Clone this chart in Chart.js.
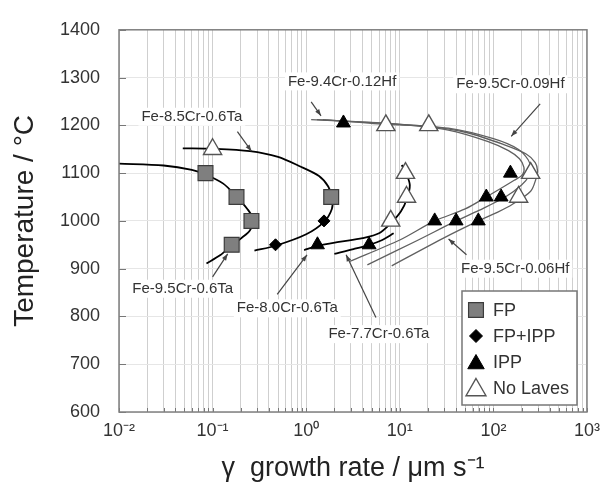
<!DOCTYPE html>
<html>
<head>
<meta charset="utf-8">
<script src="https://cdn.jsdelivr.net/npm/chart.js@4.4.0/dist/chart.umd.min.js"></script>
<style>
  html, body { margin: 0; padding: 0; background: #fff; }
  #wrap { width: 608px; height: 491px; }
</style>
</head>
<body>
<div id="wrap"><canvas id="growthChart" width="608" height="491"></canvas></div>
<script>
// measured points: growth rate (um/s) vs temperature (C)
const fpRate = [0.084, 0.18, 0.26, 0.16, 1.85];
const fpTemp = [1100, 1050, 1000, 950, 1050];
const fpIppRate = [1.55, 0.47];
const fpIppTemp = [1000, 950];
const ippRate = [1.32, 4.7, 2.5, 23.6, 40, 69, 84, 121, 152];
const ippTemp = [950, 950, 1205, 1000, 1000, 1000, 1050, 1050, 1100];
const noLavesRate = [0.1, 7.1, 20.4, 8.0, 11.8, 11.5, 186, 250];
const noLavesTemp = [1150, 1200, 1200, 1000, 1050, 1100, 1050, 1100];

// drawn curves for each alloy
const ta95Rate = [0.01, 0.03, 0.06, 0.084, 0.13, 0.18, 0.235, 0.272, 0.25, 0.2, 0.16, 0.12, 0.086];
const ta95Temp = [1120, 1116, 1107, 1097, 1078, 1051, 1025, 1003, 980, 963, 948, 928, 911];
const ta85Rate = [0.048, 0.1, 0.25, 0.5, 0.84, 1.37, 1.72, 1.9, 1.88, 1.55, 1.0, 0.47, 0.28];
const ta85Temp = [1152, 1151, 1146, 1134, 1115, 1094, 1072, 1048, 1025, 998, 972, 948, 938];
const ta80Rate = [0.95, 1.34, 2.24, 4.0, 6.0, 8.1, 10.3, 12.0, 12.8, 11.8, 10.5];
const ta80Temp = [939, 948, 956, 964, 974, 996, 1020, 1048, 1075, 1098, 1117];
const ta77Rate = [2.0, 3.2, 4.7, 6.5, 8.6];
const ta77Temp = [931, 941, 950, 960, 974];
const hf12Rate = [1.13, 2.5, 10, 33, 88, 145, 190, 212, 205, 167, 84, 50, 23.6, 10, 2.9];
const hf12Temp = [1212, 1209, 1202, 1190, 1166, 1147, 1130, 1112, 1097, 1085, 1050, 1025, 1000, 960, 915];
const hf09Rate = [1.3, 7.1, 33, 100, 184, 235, 252, 242, 200, 134, 70, 40, 15, 4.5];
const hf09Temp = [1212, 1204, 1194, 1172, 1150, 1128, 1110, 1095, 1075, 1050, 1022, 1000, 958, 908];
const hf06Rate = [1.5, 7.1, 20.4, 54, 128, 224, 280, 296, 285, 250, 160, 110, 69, 30, 8.2];
const hf06Temp = [1212, 1202, 1198, 1184, 1160, 1140, 1122, 1105, 1088, 1062, 1035, 1018, 1000, 965, 906];

// axis ticks
const xTickValues = [0.01, 0.1, 1, 10, 100, 1000];
const xTickLabels = ['10\u207B\u00B2', '10\u207B\u00B9', '10\u2070', '10\u00B9', '10\u00B2', '10\u00B3'];
const yTicks = [600, 700, 800, 900, 1000, 1100, 1200, 1300, 1400];

// alloy labels: text, label anchor [rate, temp], arrow from / to
const notes = [
  { text: 'Fe-8.5Cr-0.6Ta', at: [0.06, 1218], from: [0.184, 1187], to: [0.26, 1146] },
  { text: 'Fe-9.4Cr-0.12Hf', at: [2.42, 1292], from: [1.13, 1249], to: [1.44, 1220] },
  { text: 'Fe-9.5Cr-0.09Hf', at: [152, 1286], from: [316, 1245], to: [155, 1177] },
  { text: 'Fe-9.5Cr-0.6Ta', at: [0.048, 858], from: [0.1, 883], to: [0.145, 931] },
  { text: 'Fe-8.0Cr-0.6Ta', at: [0.628, 817], from: [0.49, 846], to: [1.02, 929] },
  { text: 'Fe-7.7Cr-0.6Ta', at: [5.98, 763], from: [5.56, 798], to: [2.67, 929] },
  { text: 'Fe-9.5Cr-0.06Hf', at: [171, 900], from: [51.6, 929], to: [33.2, 962] }
];

const FONT = '"Liberation Sans", Arial, sans-serif';
const pts = (xs, ys) => xs.map((x, i) => ({ x: x, y: ys[i] }));

// every 1..9 x 10^n between the axis limits, for the log grid
const minorTicks = [];
for (let e = -2; e <= 2; e++) {
  for (let m = 1; m <= 9; m++) minorTicks.push(Number((m * Math.pow(10, e)).toPrecision(3)));
}
minorTicks.push(1000);

const markerSets = [
  { label: 'FP', data: pts(fpRate, fpTemp), pointStyle: 'rect', pointRadius: 10.5,
    backgroundColor: '#7f7f7f', borderColor: '#3c3c3c', borderWidth: 1.2 },
  { label: 'FP+IPP', data: pts(fpIppRate, fpIppTemp), pointStyle: 'rectRot', pointRadius: 6,
    backgroundColor: '#000', borderColor: '#000', borderWidth: 1 },
  { label: 'IPP', data: pts(ippRate, ippTemp), pointStyle: 'triangle', pointRadius: 8,
    backgroundColor: '#000', borderColor: '#000', borderWidth: 1 },
  { label: 'No Laves', data: pts(noLavesRate, noLavesTemp), pointStyle: 'triangle', pointRadius: 10.5,
    backgroundColor: '#fff', borderColor: '#555', borderWidth: 1.4 }
].map(d => Object.assign(d, { showLine: false, order: 0 }));

function curve(xs, ys, color, width) {
  return { data: pts(xs, ys), showLine: true, pointRadius: 0, pointHoverRadius: 0,
    borderColor: color, borderWidth: width, tension: 0.3, fill: false, order: 1 };
}

const curveSets = [
  curve(ta95Rate, ta95Temp, '#000', 1.8),
  curve(ta85Rate, ta85Temp, '#000', 1.8),
  curve(ta80Rate, ta80Temp, '#000', 1.8),
  curve(ta77Rate, ta77Temp, '#000', 1.8),
  curve(hf12Rate, hf12Temp, '#606060', 1.3),
  curve(hf09Rate, hf09Temp, '#606060', 1.3),
  curve(hf06Rate, hf06Temp, '#606060', 1.3)
];

function arrow(ctx, x0, y0, x1, y1) {
  const a = Math.atan2(y1 - y0, x1 - x0);
  ctx.beginPath();
  ctx.moveTo(x0, y0);
  ctx.lineTo(x1, y1);
  ctx.stroke();
  ctx.beginPath();
  ctx.moveTo(x1, y1);
  ctx.lineTo(x1 - 7 * Math.cos(a - 0.35), y1 - 7 * Math.sin(a - 0.35));
  ctx.lineTo(x1 - 7 * Math.cos(a + 0.35), y1 - 7 * Math.sin(a + 0.35));
  ctx.closePath();
  ctx.fill();
}

const notesPlugin = {
  id: 'notes',
  afterDatasetsDraw(chart) {
    const { ctx, scales: { x, y } } = chart;
    ctx.save();
    ctx.font = '15px ' + FONT;
    ctx.textAlign = 'center';
    ctx.textBaseline = 'middle';
    notes.forEach(n => {
      const px = x.getPixelForValue(n.at[0]);
      const py = y.getPixelForValue(n.at[1]);
      const w = ctx.measureText(n.text).width;
      ctx.fillStyle = '#fff';
      ctx.fillRect(px - w / 2 - 3, py - 9, w + 6, 18);
      ctx.fillStyle = '#333';
      ctx.fillText(n.text, px, py);
      ctx.strokeStyle = '#444';
      ctx.fillStyle = '#444';
      ctx.lineWidth = 1.2;
      arrow(ctx, x.getPixelForValue(n.from[0]), y.getPixelForValue(n.from[1]),
        x.getPixelForValue(n.to[0]), y.getPixelForValue(n.to[1]));
    });
    ctx.restore();
  }
};

const framePlugin = {
  id: 'frame',
  afterDraw(chart) {
    const { ctx, chartArea: a, scales: { x, y } } = chart;
    ctx.save();
    // inward tick marks
    ctx.strokeStyle = '#777';
    ctx.lineWidth = 1;
    yTicks.forEach(v => {
      const py = Math.round(y.getPixelForValue(v)) + 0.5;
      ctx.beginPath(); ctx.moveTo(a.left, py); ctx.lineTo(a.left + 7, py); ctx.stroke();
    });
    minorTicks.forEach(v => {
      const px = Math.round(x.getPixelForValue(v)) + 0.5;
      ctx.beginPath(); ctx.moveTo(px, a.bottom); ctx.lineTo(px, a.bottom - 4); ctx.stroke();
    });
    // legend box
    const lw = 115, lh = 114;
    const lx = a.right - 10 - lw, ly = a.bottom - 7 - lh;
    ctx.fillStyle = '#fff';
    ctx.fillRect(lx, ly, lw, lh);
    ctx.strokeStyle = '#777';
    ctx.lineWidth = 1.5;
    ctx.strokeRect(lx, ly, lw, lh);
    const legendSizes = [10.5, 6.5, 9.5, 11.5];
    ctx.font = '18px ' + FONT;
    ctx.textAlign = 'left';
    ctx.textBaseline = 'middle';
    markerSets.forEach((d, i) => {
      const cy = ly + 19 + i * 26;
      ctx.fillStyle = d.backgroundColor;
      ctx.strokeStyle = d.borderColor;
      ctx.lineWidth = d.borderWidth;
      Chart.helpers.drawPoint(ctx, { pointStyle: d.pointStyle, radius: legendSizes[i],
        rotation: 0, borderWidth: d.borderWidth }, lx + 14, cy + (d.pointStyle === 'triangle' ? 2 : 0));
      ctx.fillStyle = '#333';
      ctx.fillText(d.label, lx + 31, cy + 1);
    });
    // plot frame
    ctx.strokeStyle = '#808080';
    ctx.lineWidth = 1.5;
    ctx.strokeRect(a.left, a.top, a.right - a.left, a.bottom - a.top);
    ctx.restore();
  }
};

new Chart(document.getElementById('growthChart'), {
  type: 'scatter',
  data: { datasets: markerSets.concat(curveSets) },
  options: {
    responsive: false,
    animation: false,
    events: [],
    devicePixelRatio: 1,
    layout: { padding: { left: 0, right: 19, top: 25, bottom: 0 } },
    plugins: { legend: { display: false }, tooltip: { enabled: false } },
    scales: {
      x: {
        type: 'logarithmic',
        min: 0.01,
        max: 1000,
        afterBuildTicks: s => { s.ticks = minorTicks.map(v => ({ value: v })); },
        afterFit: s => { s.height = 79; },
        border: { display: false },
        grid: { color: '#cfcfcf', lineWidth: 1, drawTicks: false },
        ticks: {
          autoSkip: false, maxRotation: 0, padding: 8, color: '#333',
          font: { family: FONT, size: 18 },
          callback: v => {
            const i = xTickValues.findIndex(t => Math.abs(t - v) / t < 1e-6);
            return i >= 0 ? xTickLabels[i] : '';
          }
        },
        title: { display: true, text: '\u03B3  growth rate / \u03BCm s\u207B\u00B9', color: '#222',
          font: { family: FONT, size: 27 }, padding: { top: 0, bottom: 6 } }
      },
      y: {
        min: 600,
        max: 1400,
        afterBuildTicks: s => { s.ticks = yTicks.map(v => ({ value: v })); },
        afterFit: s => { s.width = 119; },
        border: { display: false },
        grid: { color: '#e6e6e6', lineWidth: 1, drawTicks: false },
        ticks: { padding: 19, color: '#333', font: { family: FONT, size: 18 },
          callback: v => String(v) },
        title: { display: true, text: 'Temperature / \u00B0C', color: '#222',
          font: { family: FONT, size: 28 }, padding: { top: 8, bottom: 0 } }
      }
    }
  },
  plugins: [notesPlugin, framePlugin]
});
</script>
</body>
</html>
